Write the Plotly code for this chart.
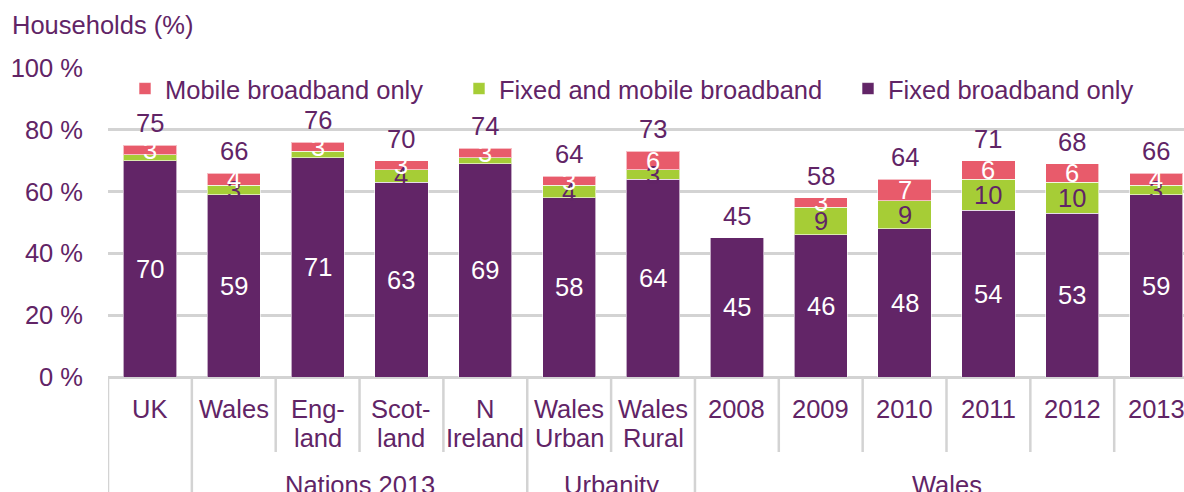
import plotly.graph_objects as go

# ---- data ---------------------------------------------------------------
cat_line1 = ["UK", "Wales", "Eng-", "Scot-", "N", "Wales", "Wales",
             "2008", "2009", "2010", "2011", "2012", "2013"]
cat_line2 = ["", "", "land", "land", "Ireland", "Urban", "Rural",
             "", "", "", "", "", ""]
group_names = ["", "Nations 2013", "Urbanity", "Wales"]
group_first = [0, 1, 5, 7]
group_last = [0, 4, 6, 12]

fixed_only = [70, 59, 71, 63, 69, 58, 64, 45, 46, 48, 54, 53, 59]
fixed_mobile = [2, 3, 2, 4, 2, 4, 3, 0, 9, 9, 10, 10, 3]
mobile_only = [3, 4, 3, 3, 3, 3, 6, 0, 3, 7, 6, 6, 4]
totals = [75, 66, 76, 70, 74, 64, 73, 45, 58, 64, 71, 68, 66]

y_ticks = [0, 20, 40, 60, 80, 100]
y_tick_text = ["0 %", "20 %", "40 %", "60 %", "80 %", "100 %"]

# ---- style --------------------------------------------------------------
PURPLE = "#622567"
GREEN = "#a6cd36"
RED = "#e85b6b"
TEXT = "#612466"
GRID = "#d3d3d3"
FONT = "Liberation Sans, Arial, sans-serif"
FS = 25.5

W, H = 1184, 492
M_L, M_T = 108, 68
PLOT_BOTTOM = 377
PLOT_H = PLOT_BOTTOM - M_T
CAT_PX = 83.85  # horizontal pixels per category


def paper_y(px):
    return (PLOT_BOTTOM - px) / PLOT_H


def paper_x(px):
    return (px - M_L) / (W - M_L)


n = len(cat_line1)
xs = list(range(n))

fig = go.Figure()
series = [
    ("Fixed broadband only", fixed_only, PURPLE, "legend3"),
    ("Fixed and mobile broadband", fixed_mobile, GREEN, "legend2"),
    ("Mobile broadband only", mobile_only, RED, "legend"),
]
for name, vals, col, leg in series:
    fig.add_trace(go.Bar(
        x=xs, y=vals, name=name, width=0.635,
        marker=dict(color=col, line=dict(color="rgba(255,255,255,0.6)", width=1)),
        legend=leg, hoverinfo="skip",
    ))

annotations = []


def label(x, y, text, color, yshift=0):
    annotations.append(dict(
        x=x, y=y, xref="x", yref="y", text=text, showarrow=False,
        font=dict(family=FONT, size=FS, color=color),
        xanchor="center", yanchor="middle", yshift=yshift,
    ))


# segment labels: fixed only (white), fixed+mobile (purple), mobile only (white)
for i in xs:
    f, fm, m = fixed_only[i], fixed_mobile[i], mobile_only[i]
    label(i, f / 2, str(f), "white")
    if fm >= 3:
        label(i, f + fm / 2, str(fm), TEXT)
    if m > 0:
        label(i, f + fm + m / 2, str(m), "white")
    # total above the stack
    label(i, f + fm + m, str(totals[i]), TEXT, yshift=22)

# category labels under the axis
for i in xs:
    annotations.append(dict(
        x=i, y=paper_y(409), xref="x", yref="paper", text=cat_line1[i],
        showarrow=False, font=dict(family=FONT, size=FS, color=TEXT),
        xanchor="center", yanchor="middle"))
    if cat_line2[i]:
        annotations.append(dict(
            x=i, y=paper_y(438), xref="x", yref="paper", text=cat_line2[i],
            showarrow=False, font=dict(family=FONT, size=FS, color=TEXT),
            xanchor="center", yanchor="middle"))

# group labels
for name, a, b in zip(group_names, group_first, group_last):
    if name:
        annotations.append(dict(
            x=(a + b) / 2, y=paper_y(485), xref="x", yref="paper", text=name,
            showarrow=False, font=dict(family=FONT, size=FS, color=TEXT),
            xanchor="center", yanchor="middle"))

# axis title
annotations.append(dict(
    x=paper_x(10), y=paper_y(25), xref="paper", yref="paper",
    text="Households (%)", showarrow=False,
    font=dict(family=FONT, size=FS, color=TEXT),
    xanchor="left", yanchor="middle"))

# category / group separators below the axis
shapes = []
group_edges = set(a - 0.5 for a in group_first) | {group_last[-1] + 0.5}
for k in range(n + 1):
    xb = k - 0.5
    y_end = paper_y(H + 5) if xb in group_edges else paper_y(452)
    shapes.append(dict(
        type="line", xref="x", yref="paper", x0=xb, x1=xb, y0=0, y1=y_end,
        line=dict(color=GRID, width=2.5)))

legend_common = dict(
    orientation="h", yanchor="middle", y=paper_y(89), xanchor="left",
    font=dict(family=FONT, size=FS, color=TEXT), bgcolor="rgba(0,0,0,0)",
)

fig.update_layout(
    width=W, height=H,
    margin=dict(l=M_L, r=0, t=M_T, b=H - PLOT_BOTTOM),
    barmode="stack",
    paper_bgcolor="white", plot_bgcolor="white",
    font=dict(family=FONT, size=FS, color=TEXT),
    xaxis=dict(
        range=[-0.5, -0.5 + (W - M_L) / CAT_PX],
        showticklabels=False, showgrid=False, zeroline=False,
        showline=False, ticks="", fixedrange=True,
    ),
    yaxis=dict(
        range=[0, 100], tickmode="array", tickvals=y_ticks, ticktext=y_tick_text,
        showgrid=True, gridcolor=GRID, gridwidth=2.5,
        zeroline=True, zerolinecolor=GRID, zerolinewidth=2.5,
        showline=False, ticks="", ticklabelstandoff=24,
        tickfont=dict(family=FONT, size=FS, color=TEXT), fixedrange=True,
    ),
    legend=dict(x=paper_x(125), **legend_common),
    legend2=dict(x=paper_x(459), **legend_common),
    legend3=dict(x=paper_x(848), **legend_common),
    annotations=annotations,
    shapes=shapes,
    showlegend=True,
)

fig.write_html("out.html", config={"displayModeBar": False})
